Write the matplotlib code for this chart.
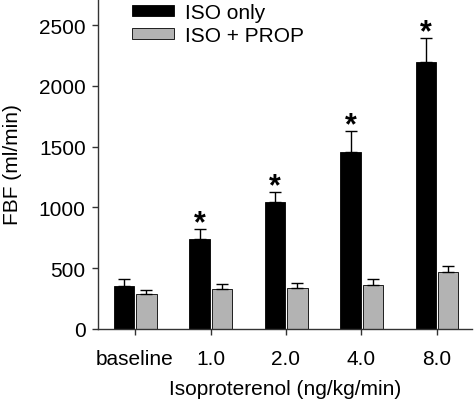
import numpy as np
import matplotlib.pyplot as plt

plt.rcParams['font.family'] = ['Liberation Sans', 'DejaVu Sans']

# data
doses = ['baseline', '1.0', '2.0', '4.0', '8.0']
iso_only = [350, 743, 1043, 1454, 2195]
iso_only_err = [58, 77, 82, 173, 197]
iso_prop = [285, 329, 335, 362, 467]
iso_prop_err = [33, 39, 41, 49, 51]
significant = [False, True, True, True, True]

x = np.arange(len(doses))
w = 0.27
fs = 15

fig = plt.figure(figsize=(4.77, 4.02), dpi=100)
ax = fig.add_axes([97.5/477, 72/402, (472-97.5)/477, 330/402])

ax.bar(x - 0.145, iso_only, w, color='black', edgecolor='black', linewidth=0.6,
       label='ISO only')
ax.bar(x + 0.15, iso_prop, w, color='#b3b3b3', edgecolor='black', linewidth=0.6,
       label='ISO + PROP')
# one-sided error bars
ax.errorbar(x - 0.145, iso_only, yerr=[np.zeros(len(x)), iso_only_err], fmt='none',
            ecolor='black', elinewidth=1, capsize=4, capthick=1)
ax.errorbar(x + 0.15, iso_prop, yerr=[np.zeros(len(x)), iso_prop_err], fmt='none',
            ecolor='black', elinewidth=1, capsize=4, capthick=1)

for i in range(len(x)):
    if significant[i]:
        ax.text(x[i] - 0.145, iso_only[i] + iso_only_err[i] + 50, '*',
                ha='center', va='center', fontsize=22, fontweight='bold')

ax.set_xlim(-0.497, 4.464)
ax.set_ylim(0, 2715)
ax.set_yticks([0, 500, 1000, 1500, 2000, 2500])
ax.set_xticks(x)
ax.set_xticklabels(doses)
ax.tick_params(labelsize=fs, length=4.5, width=1, color='#333333')
ax.tick_params(axis='x', pad=10)
ax.tick_params(axis='y', pad=4)
for s in ['top', 'right']:
    ax.spines[s].set_visible(False)
for s in ['left', 'bottom']:
    ax.spines[s].set_color('#333333')
    ax.spines[s].set_linewidth(1)

ax.set_ylabel('FBF (ml/min)', fontsize=fs, labelpad=12)
ax.set_xlabel('Isoproterenol (ng/kg/min)', fontsize=fs, labelpad=8)

ax.legend(loc='upper left', bbox_to_anchor=(0.043, 1.046), frameon=False,
          fontsize=fs, handlelength=2.0, handleheight=0.45, handletextpad=0.55,
          labelspacing=0.2)

fig.savefig('out.png', dpi=100)
